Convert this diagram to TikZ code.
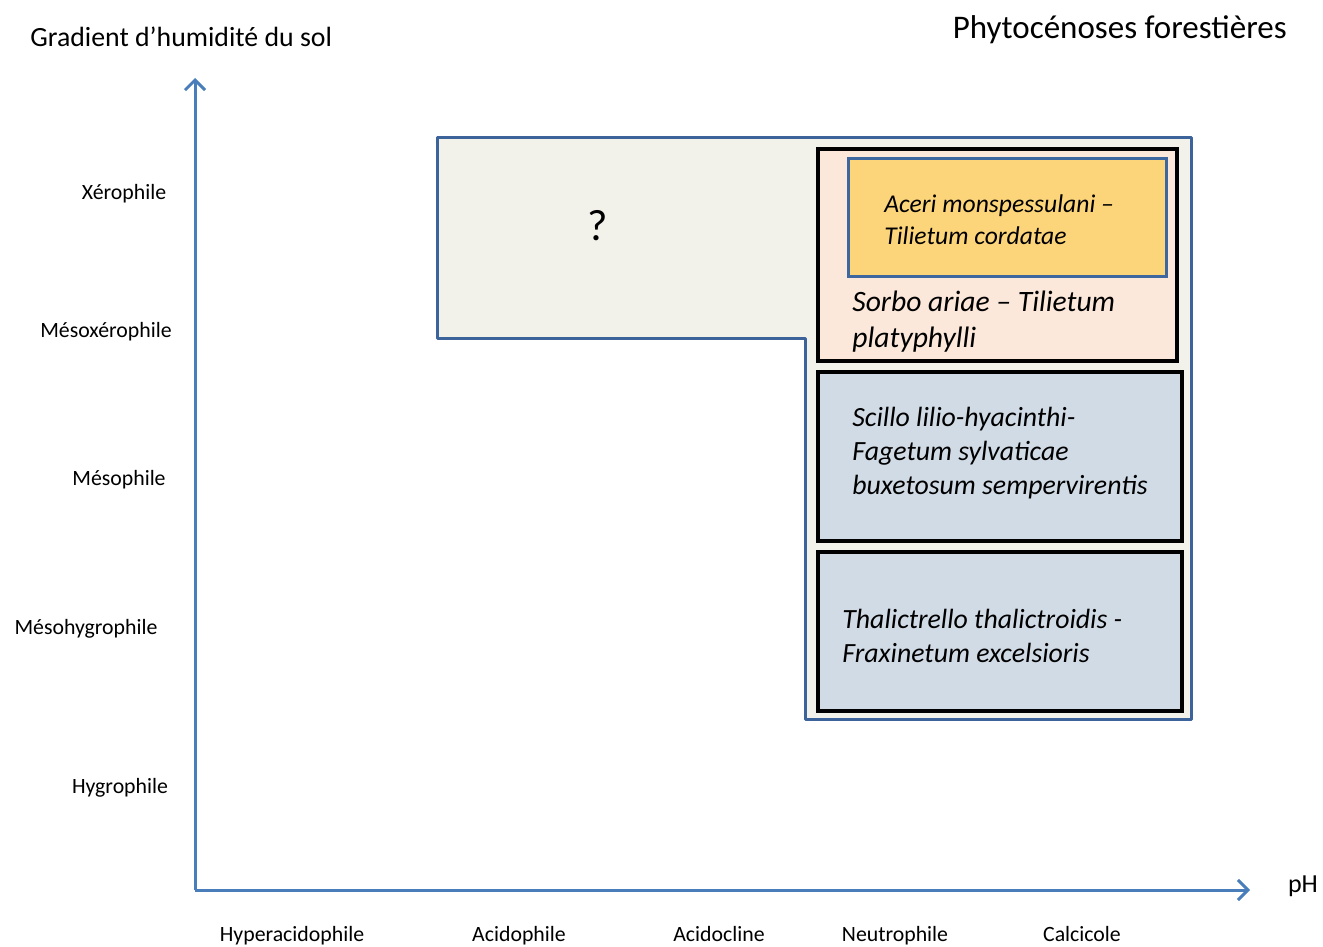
\documentclass[tikz,border=0pt]{standalone}
\usepackage{fontspec}
\setmainfont{Carlito}
\usepackage{xcolor}
\usetikzlibrary{arrows.meta, positioning}

\definecolor{axisblue}{HTML}{4A7EBB}
\definecolor{zoneline}{HTML}{3C639A}
\definecolor{zonefill}{HTML}{F2F1EA}
\definecolor{peach}{HTML}{FCE8DA}
\definecolor{ochre}{HTML}{FCD47A}
\definecolor{steel}{HTML}{D1DBE6}

\begin{document}
\begin{tikzpicture}[
  x=0.5pt, y=-0.5pt,
  every node/.style={inner sep=0pt},
  axis/.style={draw=axisblue, line width=1.5pt, -{Straight Barb[length=5pt, width=10pt]}},
  lbl/.style={font=\fontsize{10.9}{13}\selectfont, text height=0.75em, text depth=0.25em},
  zone/.style={draw=zoneline, fill=zonefill, line width=1.5pt, line join=round},
  assoc/.style={rectangle, draw=black, line width=2pt, fill=steel},
  subassoc/.style={rectangle, draw=zoneline!85!axisblue, line width=1.5pt, fill=ochre},
  boxtext/.style={anchor=west, align=left, font=\fontsize{13.9}{17}\selectfont\itshape},
]
  \useasboundingbox (0,0) rectangle (1323,947);

  % Axes
  \coordinate (origin) at (195,890);
  \coordinate (ytip)   at (195,78);
  \coordinate (xtip)   at (1250,890);
  \draw[axis] (origin) -- (ytip);
  \draw[axis] (origin) -- (xtip);

  \node[anchor=west, font=\fontsize{13.9}{16}\selectfont] (ytitle) at (30,37) {Gradient d’humidité du sol};
  \node[anchor=east, font=\fontsize{16.5}{19}\selectfont] (title) at (1287,30) {Phytocénoses forestières};
  \node[font=\fontsize{13}{15}\selectfont] (ph) at (1303,886) {pH};

  % humidity levels
  \node[lbl] (xero)   at (124,194) {Xérophile};
  \node[lbl] (mesox)  at (106,332) {Mésoxérophile};
  \node[lbl] (meso)   at (119,480) {Mésophile};
  \node[lbl] (mesoh)  at (86,629)  {Mésohygrophile};
  \node[lbl] (hygro)  at (120,788) {Hygrophile};

  % pH levels
  \node[lbl] (hyper)  at (292,936)  {Hyperacidophile};
  \node[lbl] (acido)  at (519,936)  {Acidophile};
  \node[lbl] (acicl)  at (719,936)  {Acidocline};
  \node[lbl] (neutro) at (895,936)  {Neutrophile};
  \node[lbl] (calci)  at (1082,936) {Calcicole};

  % Zone
  \draw[zone] (437,138) -- (1191,138) -- (1191,719) -- (805,719) -- (805,338) -- (437,338) -- cycle;
  \node[font=\fontsize{22}{24}\selectfont] (unknown) at (598,226) {?};

  % Associations
  \node[assoc, fill=peach, minimum width=179.5pt, minimum height=106pt] (sorbo) at (997.5,255) {};
  \node[subassoc, minimum width=159pt, minimum height=58.5pt] (aceri) at (1007,217.5) {};
  \node[assoc, minimum width=182pt, minimum height=84.5pt] (scillo) at (1000,456.5) {};
  \node[assoc, minimum width=182pt, minimum height=79.5pt] (thalic) at (1000,631.5) {};

  \node[boxtext, font=\fontsize{12.8}{16}\selectfont\itshape] (acerit) at (884,220)
        {Aceri monspessulani –\\Tilietum cordatae};
  \node[boxtext, font=\fontsize{14.8}{18}\selectfont\itshape] (sorbot) at (852,321.5)
        {Sorbo ariae – Tilietum\\platyphylli};
  \node[boxtext] (scillot) at (852,453.5)
        {Scillo lilio-hyacinthi-\\Fagetum sylvaticae\\buxetosum sempervirentis};
  \node[boxtext] (thalict) at (842,635.5)
        {Thalictrello thalictroidis -\\Fraxinetum excelsioris};
\end{tikzpicture}
\end{document}
